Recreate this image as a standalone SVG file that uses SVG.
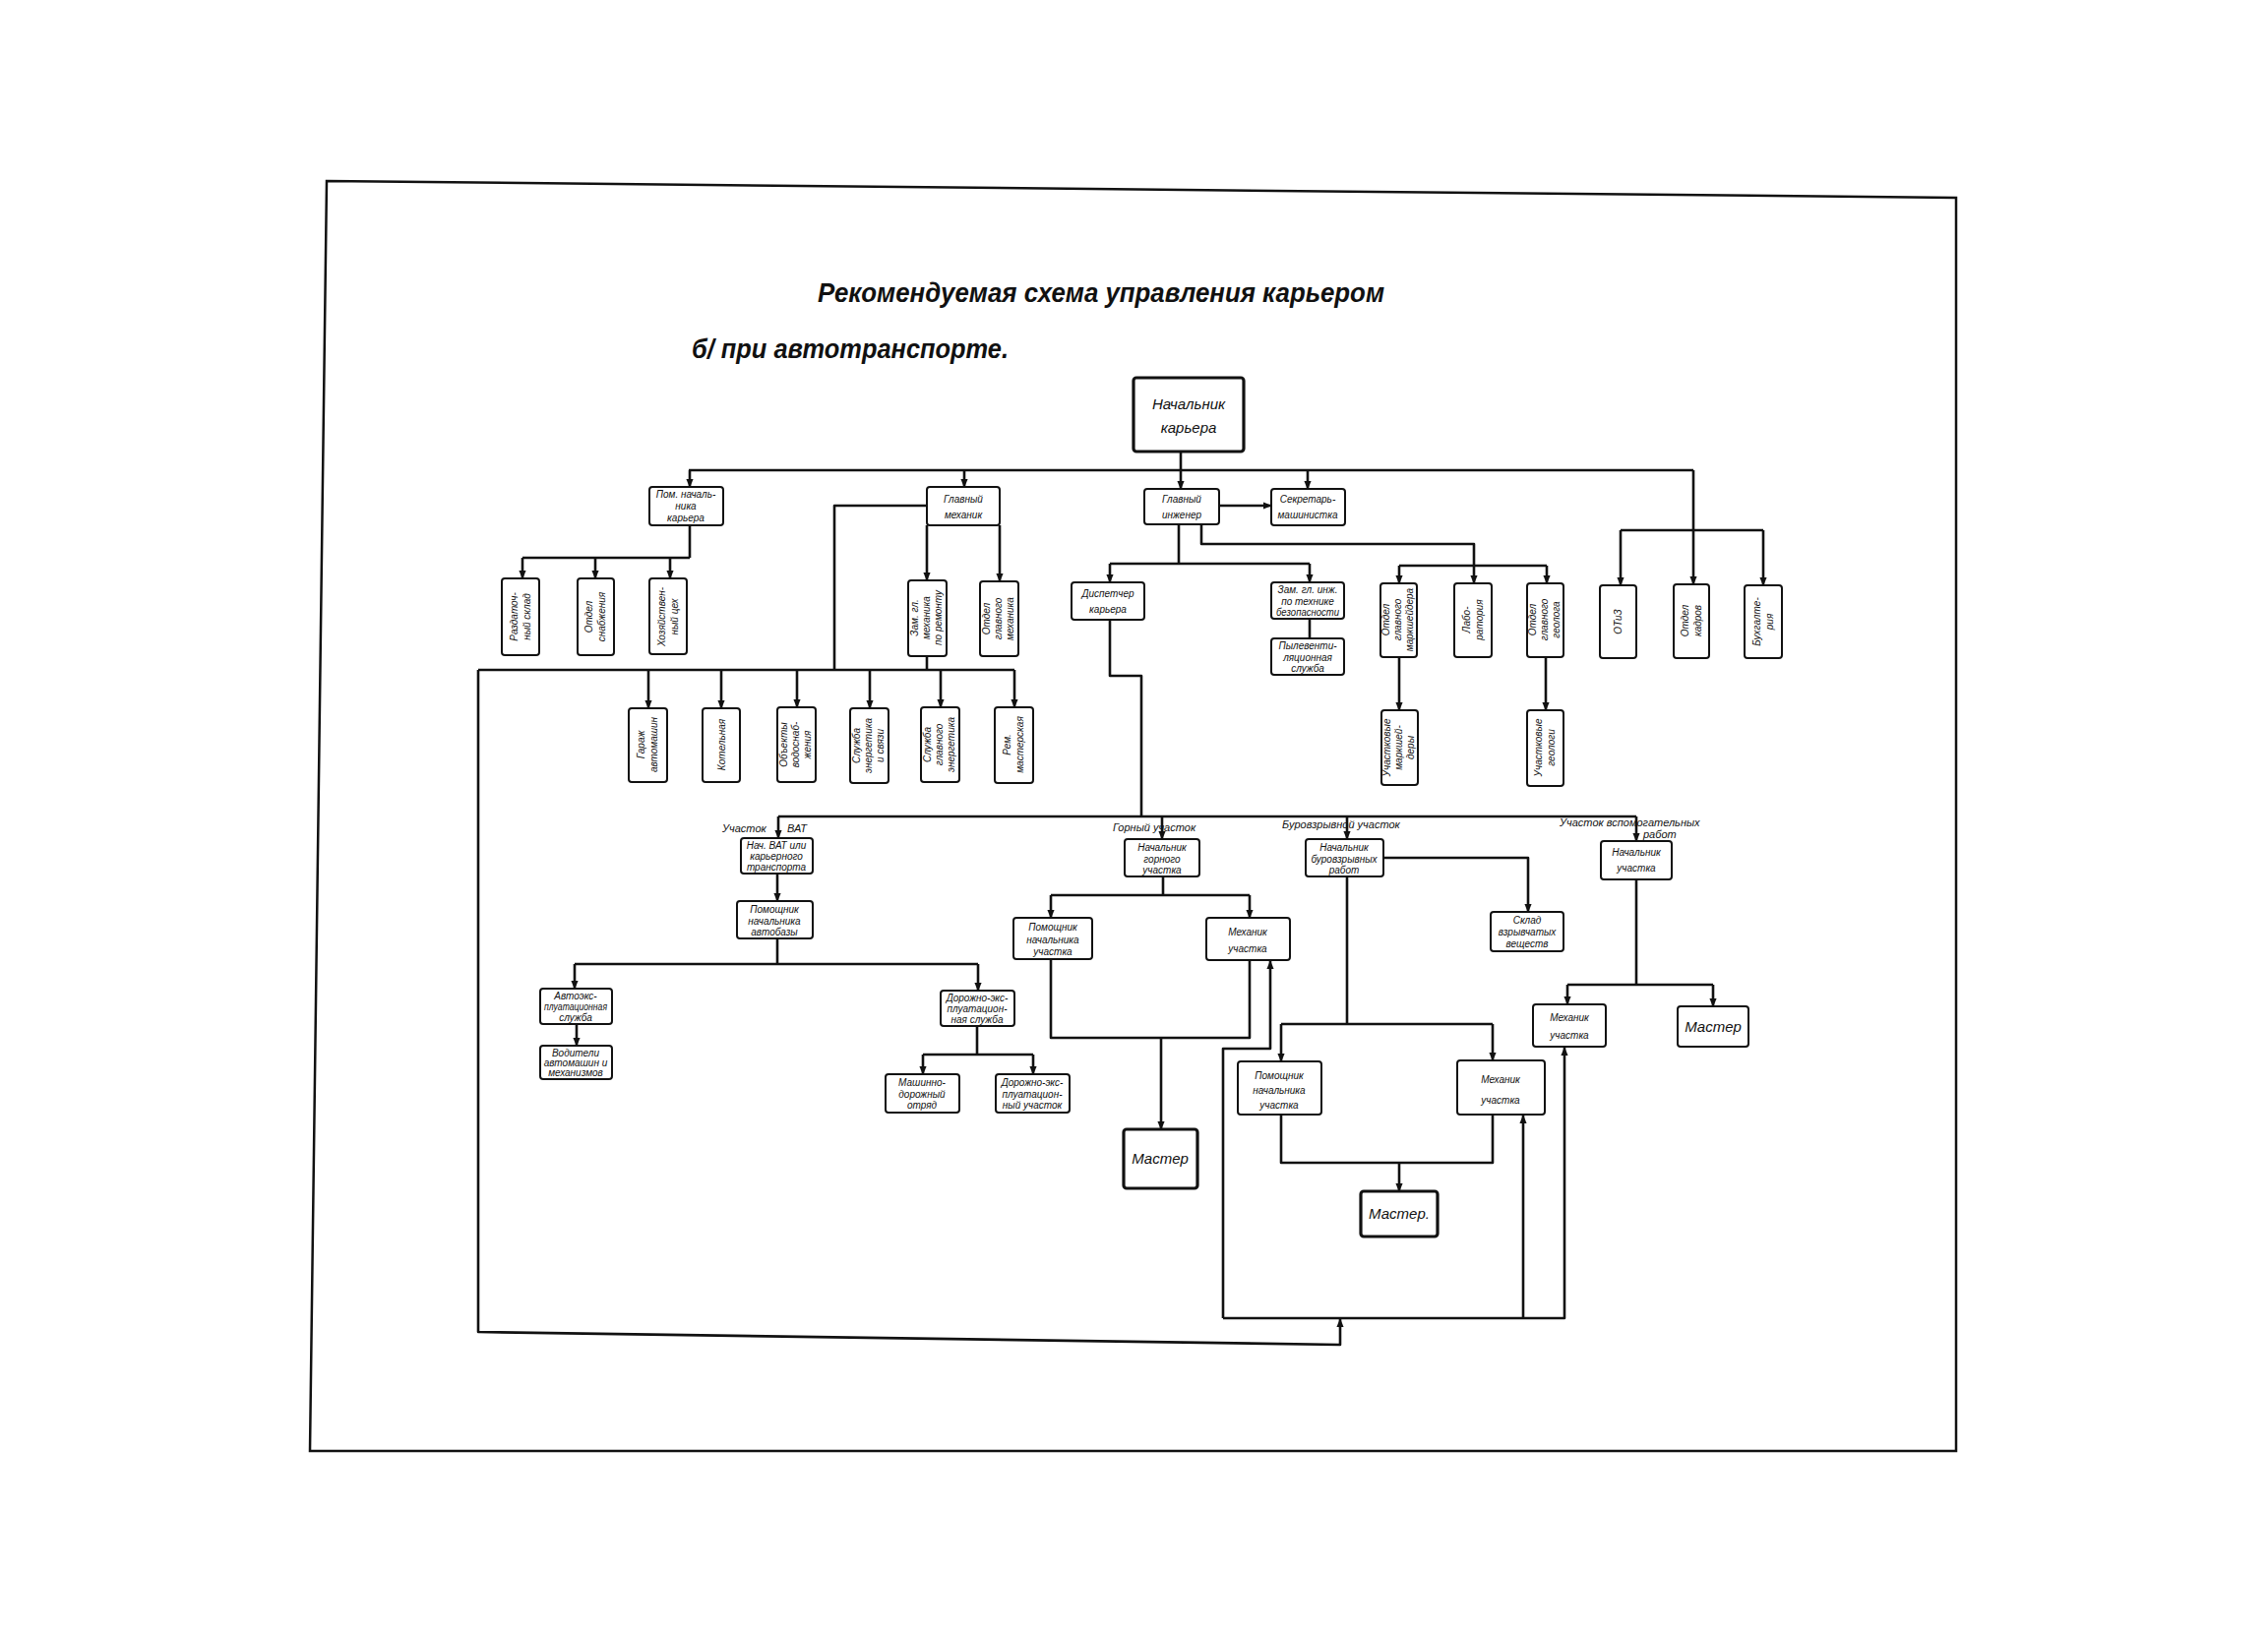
<svg xmlns="http://www.w3.org/2000/svg" width="2305" height="1657" viewBox="0 0 2305 1657">
<style>
.bx{fill:#fff;stroke:#111;stroke-width:2}
.bk{fill:#fff;stroke:#111;stroke-width:3.2}
.t{font-family:"Liberation Sans",Arial,sans-serif;font-size:10px;font-style:italic;text-anchor:middle;fill:#111}
.tb{font-family:"Liberation Sans",Arial,sans-serif;font-size:15px;font-style:italic;text-anchor:middle;fill:#111}
.lb{font-family:"Liberation Sans",Arial,sans-serif;font-size:11px;font-style:italic;fill:#111}
.ti{font-family:"Liberation Sans",Arial,sans-serif;font-size:28px;font-style:italic;font-weight:bold;fill:#111}
.ln{fill:none;stroke:#111;stroke-width:2.6;stroke-linejoin:round}
.ar{marker-end:url(#a)}
</style>
<defs>
<marker id="a" viewBox="0 0 10 10" refX="9" refY="5" markerWidth="9" markerHeight="9" markerUnits="userSpaceOnUse" orient="auto">
<path d="M0,1 L10,5 L0,9 z" fill="#111"/>
</marker>
</defs>
<rect width="2305" height="1657" fill="#fff"/>
<path d="M332,184 L1988,201 L1988,1475 L315,1475 Z" fill="none" stroke="#111" stroke-width="2.5"/>
<text class="ti" x="831" y="307" textLength="576" lengthAdjust="spacingAndGlyphs">Рекомендуемая схема управления карьером</text>
<text class="ti" x="703" y="364" textLength="322" lengthAdjust="spacingAndGlyphs">б/ при автотранспорте.</text>

<g id="connectors">
<path class="ln" d="M700,478 H1721"/>
<path class="ln ar" d="M1200,459 V497"/>
<path class="ln ar" d="M701,478 V495"/>
<path class="ln ar" d="M980,478 V495"/>
<path class="ln ar" d="M1329,478 V497"/>
<path class="ln" d="M1721,478 V539 M1647,539 H1792"/>
<path class="ln ar" d="M1647,539 V595"/>
<path class="ln ar" d="M1721,539 V594"/>
<path class="ln ar" d="M1792,539 V595"/>
<path class="ln ar" d="M1239,514 H1292"/>
<path class="ln" d="M701,534 V567 M531,567 H701"/>
<path class="ln ar" d="M531,567 V588"/>
<path class="ln ar" d="M605,567 V588"/>
<path class="ln ar" d="M681,567 V588"/>
<path class="ln" d="M942,514 H848 V681"/>
<path class="ln ar" d="M942,534 V590"/>
<path class="ln ar" d="M1016,534 V591"/>
<path class="ln" d="M942,667 V681"/>
<path class="ln" d="M486,681 H1031"/>
<path class="ln ar" d="M659,681 V720"/>
<path class="ln ar" d="M733,681 V720"/>
<path class="ln ar" d="M810,681 V719"/>
<path class="ln ar" d="M884,681 V720"/>
<path class="ln ar" d="M956,681 V719"/>
<path class="ln ar" d="M1031,681 V719"/>
<path class="ln ar" d="M486,681 V1354 L1362,1367 V1341"/>
<path class="ln" d="M1198,533 V573 M1128,573 H1331"/>
<path class="ln ar" d="M1128,573 V592"/>
<path class="ln ar" d="M1331,573 V592"/>
<path class="ln" d="M1331,629 V649"/>
<path class="ln" d="M1221,533 V553 H1498 V575 M1422,575 H1572"/>
<path class="ln ar" d="M1422,575 V593"/>
<path class="ln ar" d="M1498,575 V593"/>
<path class="ln ar" d="M1572,575 V593"/>
<path class="ln ar" d="M1422,668 V722"/>
<path class="ln ar" d="M1571,668 V722"/>
<path class="ln" d="M1128,630 V687 H1160 V830"/>
<path class="ln" d="M791,830 H1663"/>
<path class="ln ar" d="M791,830 V852"/>
<path class="ln ar" d="M790,888 V916"/>
<path class="ln" d="M790,954 V980 M584,980 H994"/>
<path class="ln ar" d="M584,980 V1005"/>
<path class="ln ar" d="M994,980 V1007"/>
<path class="ln ar" d="M586,1041 V1063"/>
<path class="ln" d="M993,1043 V1072 M938,1072 H1050"/>
<path class="ln ar" d="M938,1072 V1092"/>
<path class="ln ar" d="M1050,1072 V1092"/>
<path class="ln ar" d="M1181,830 V853"/>
<path class="ln" d="M1182,891 V910 M1068,910 H1270"/>
<path class="ln ar" d="M1068,910 V933"/>
<path class="ln ar" d="M1270,910 V933"/>
<path class="ln" d="M1068,975 V1055 H1270 V976"/>
<path class="ln ar" d="M1180,1055 V1148"/>
<path class="ln ar" d="M1243,1340 V1066 H1291 V977"/>
<path class="ln ar" d="M1243,1340 H1590 V1065"/>
<path class="ln ar" d="M1548,1340 V1134"/>
<path class="ln ar" d="M1369,830 V853"/>
<path class="ln ar" d="M1406,872 H1553 V927"/>
<path class="ln" d="M1369,891 V1041 M1302,1041 H1517"/>
<path class="ln ar" d="M1302,1041 V1079"/>
<path class="ln ar" d="M1517,1041 V1078"/>
<path class="ln" d="M1302,1133 V1182 H1517 V1133"/>
<path class="ln ar" d="M1422,1182 V1211"/>
<path class="ln ar" d="M1663,830 V855"/>
<path class="ln" d="M1663,894 V1001 M1593,1001 H1741"/>
<path class="ln ar" d="M1593,1001 V1021"/>
<path class="ln ar" d="M1741,1001 V1023"/>
</g>

<g id="n1"><rect class="bk" x="1152" y="384" width="112" height="75" rx="3"/><text class="tb" x="1208" y="416">Начальник</text><text class="tb" x="1208" y="440">карьера</text></g>
<g id="n2"><rect class="bx" x="660" y="495" width="75" height="39" rx="3"/><text class="t" x="697" y="506">Пом. началь-</text><text class="t" x="697" y="518">ника</text><text class="t" x="697" y="530">карьера</text></g>
<g id="n3"><rect class="bx" x="942" y="495" width="74" height="39" rx="3"/><text class="t" x="979" y="511">Главный</text><text class="t" x="979" y="527">механик</text></g>
<g id="n4"><rect class="bx" x="1163" y="497" width="76" height="36" rx="3"/><text class="t" x="1201" y="511">Главный</text><text class="t" x="1201" y="527">инженер</text></g>
<g id="n5"><rect class="bx" x="1292" y="497" width="75" height="37" rx="3"/><text class="t" x="1329" y="511">Секретарь-</text><text class="t" x="1329" y="527">машинистка</text></g>

<g id="n6"><rect class="bx" x="510" y="588" width="38" height="78" rx="3"/><text class="t" transform="translate(529,627) rotate(-90)"><tspan x="0" y="-3">Раздаточ-</tspan><tspan x="0" y="10">ный склад</tspan></text></g>
<g id="n7"><rect class="bx" x="587" y="588" width="37" height="78" rx="3"/><text class="t" transform="translate(605,627) rotate(-90)"><tspan x="0" y="-3">Отдел</tspan><tspan x="0" y="10">снабжения</tspan></text></g>
<g id="n8"><rect class="bx" x="660" y="588" width="38" height="77" rx="3"/><text class="t" transform="translate(679,627) rotate(-90)"><tspan x="0" y="-3">Хозяйствен-</tspan><tspan x="0" y="10">ный цех</tspan></text></g>
<g id="n9"><rect class="bx" x="923" y="590" width="39" height="77" rx="3"/><text class="t" transform="translate(942,628) rotate(-90)"><tspan x="0" y="-9">Зам. гл.</tspan><tspan x="0" y="3">механика</tspan><tspan x="0" y="15">по ремонту</tspan></text></g>
<g id="n10"><rect class="bx" x="996" y="591" width="39" height="76" rx="3"/><text class="t" transform="translate(1015,629) rotate(-90)"><tspan x="0" y="-9">Отдел</tspan><tspan x="0" y="3">главного</tspan><tspan x="0" y="15">механика</tspan></text></g>

<g id="n11"><rect class="bx" x="639" y="720" width="39" height="75" rx="3"/><text class="t" transform="translate(658,757) rotate(-90)"><tspan x="0" y="-3">Гараж</tspan><tspan x="0" y="10">автомашин</tspan></text></g>
<g id="n12"><rect class="bx" x="714" y="720" width="38" height="75" rx="3"/><text class="t" transform="translate(733,757) rotate(-90)"><tspan x="0" y="4">Котельная</tspan></text></g>
<g id="n13"><rect class="bx" x="790" y="719" width="39" height="76" rx="3"/><text class="t" transform="translate(809,757) rotate(-90)"><tspan x="0" y="-9">Объекты</tspan><tspan x="0" y="3">водоснаб-</tspan><tspan x="0" y="15">жения</tspan></text></g>
<g id="n14"><rect class="bx" x="864" y="720" width="39" height="76" rx="3"/><text class="t" transform="translate(883,758) rotate(-90)"><tspan x="0" y="-9">Служба</tspan><tspan x="0" y="3">энергетика</tspan><tspan x="0" y="15">и связи</tspan></text></g>
<g id="n15"><rect class="bx" x="936" y="719" width="39" height="76" rx="3"/><text class="t" transform="translate(955,757) rotate(-90)"><tspan x="0" y="-9">Служба</tspan><tspan x="0" y="3">главного</tspan><tspan x="0" y="15">энергетика</tspan></text></g>
<g id="n16"><rect class="bx" x="1011" y="719" width="39" height="77" rx="3"/><text class="t" transform="translate(1030,757) rotate(-90)"><tspan x="0" y="-3">Рем.</tspan><tspan x="0" y="10">мастерская</tspan></text></g>

<g id="n17"><rect class="bx" x="1089" y="592" width="74" height="38" rx="3"/><text class="t" x="1126" y="607">Диспетчер</text><text class="t" x="1126" y="623">карьера</text></g>
<g id="n18"><rect class="bx" x="1292" y="592" width="74" height="37" rx="3"/><text class="t" x="1329" y="603">Зам. гл. инж.</text><text class="t" x="1329" y="615">по технике</text><text class="t" x="1329" y="626" textLength="64" lengthAdjust="spacingAndGlyphs">безопасности</text></g>
<g id="n19"><rect class="bx" x="1292" y="649" width="74" height="37" rx="3"/><text class="t" x="1329" y="660">Пылевенти-</text><text class="t" x="1329" y="672">ляционная</text><text class="t" x="1329" y="683">служба</text></g>
<g id="n20"><rect class="bx" x="1403" y="593" width="37" height="75" rx="3"/><text class="t" transform="translate(1421,630) rotate(-90)"><tspan x="0" y="-9">Отдел</tspan><tspan x="0" y="3">главного</tspan><tspan x="0" y="15">маркшейдера</tspan></text></g>
<g id="n21"><rect class="bx" x="1478" y="593" width="38" height="75" rx="3"/><text class="t" transform="translate(1497,630) rotate(-90)"><tspan x="0" y="-3">Лабо-</tspan><tspan x="0" y="10">ратория</tspan></text></g>
<g id="n22"><rect class="bx" x="1552" y="593" width="37" height="75" rx="3"/><text class="t" transform="translate(1570,630) rotate(-90)"><tspan x="0" y="-9">Отдел</tspan><tspan x="0" y="3">главного</tspan><tspan x="0" y="15">геолога</tspan></text></g>
<g id="n23"><rect class="bx" x="1404" y="722" width="37" height="76" rx="3"/><text class="t" transform="translate(1422,760) rotate(-90)"><tspan x="0" y="-9">Участковые</tspan><tspan x="0" y="3">маркшей-</tspan><tspan x="0" y="15">деры</tspan></text></g>
<g id="n24"><rect class="bx" x="1552" y="722" width="37" height="77" rx="3"/><text class="t" transform="translate(1570,760) rotate(-90)"><tspan x="0" y="-3">Участковые</tspan><tspan x="0" y="10">геологи</tspan></text></g>

<g id="n25"><rect class="bx" x="1626" y="595" width="37" height="74" rx="3"/><text class="t" transform="translate(1644,632) rotate(-90)"><tspan x="0" y="4">ОТиЗ</tspan></text></g>
<g id="n26"><rect class="bx" x="1701" y="594" width="36" height="75" rx="3"/><text class="t" transform="translate(1719,631) rotate(-90)"><tspan x="0" y="-3">Отдел</tspan><tspan x="0" y="10">кадров</tspan></text></g>
<g id="n27"><rect class="bx" x="1773" y="595" width="38" height="74" rx="3"/><text class="t" transform="translate(1792,632) rotate(-90)"><tspan x="0" y="-3">Бухгалте-</tspan><tspan x="0" y="10">рия</tspan></text></g>

<g id="lbl-vat"><text class="lb" x="734" y="846">Участок</text><text class="lb" x="800" y="846">ВАТ</text></g>
<g id="n28"><rect class="bx" x="753" y="852" width="73" height="36" rx="3"/><text class="t" x="789" y="863">Нач. ВАТ или</text><text class="t" x="789" y="874">карьерного</text><text class="t" x="789" y="885">транспорта</text></g>
<g id="n29"><rect class="bx" x="749" y="916" width="77" height="38" rx="3"/><text class="t" x="787" y="928">Помощник</text><text class="t" x="787" y="940">начальника</text><text class="t" x="787" y="951">автобазы</text></g>
<g id="n30"><rect class="bx" x="549" y="1005" width="73" height="36" rx="3"/><text class="t" x="585" y="1016">Автоэкс-</text><text class="t" x="585" y="1027" textLength="64" lengthAdjust="spacingAndGlyphs">плуатационная</text><text class="t" x="585" y="1038">служба</text></g>
<g id="n31"><rect class="bx" x="549" y="1063" width="73" height="34" rx="3"/><text class="t" x="585" y="1074">Водители</text><text class="t" x="585" y="1084">автомашин и</text><text class="t" x="585" y="1094">механизмов</text></g>
<g id="n32"><rect class="bx" x="956" y="1007" width="75" height="36" rx="3"/><text class="t" x="993" y="1018">Дорожно-экс-</text><text class="t" x="993" y="1029">плуатацион-</text><text class="t" x="993" y="1040">ная служба</text></g>
<g id="n33"><rect class="bx" x="900" y="1092" width="75" height="39" rx="3"/><text class="t" x="937" y="1104">Машинно-</text><text class="t" x="937" y="1116">дорожный</text><text class="t" x="937" y="1127">отряд</text></g>
<g id="n34"><rect class="bx" x="1012" y="1092" width="75" height="39" rx="3"/><text class="t" x="1049" y="1104">Дорожно-экс-</text><text class="t" x="1049" y="1116">плуатацион-</text><text class="t" x="1049" y="1127">ный участок</text></g>

<g id="lbl-gor"><text class="lb" x="1131" y="845">Горный участок</text></g>
<g id="n35"><rect class="bx" x="1143" y="853" width="76" height="38" rx="3"/><text class="t" x="1181" y="865">Начальник</text><text class="t" x="1181" y="877">горного</text><text class="t" x="1181" y="888">участка</text></g>
<g id="n36"><rect class="bx" x="1030" y="933" width="80" height="42" rx="3"/><text class="t" x="1070" y="946">Помощник</text><text class="t" x="1070" y="959">начальника</text><text class="t" x="1070" y="971">участка</text></g>
<g id="n37"><rect class="bx" x="1226" y="933" width="85" height="43" rx="3"/><text class="t" x="1268" y="951">Механик</text><text class="t" x="1268" y="968">участка</text></g>
<g id="n38"><rect class="bk" x="1142" y="1148" width="75" height="60" rx="3"/><text class="tb" x="1179" y="1183">Мастер</text></g>

<g id="lbl-bur"><text class="lb" x="1303" y="842">Буровзрывной участок</text></g>
<g id="n39"><rect class="bx" x="1327" y="853" width="79" height="38" rx="3"/><text class="t" x="1366" y="865">Начальник</text><text class="t" x="1366" y="877">буровзрывных</text><text class="t" x="1366" y="888">работ</text></g>
<g id="n40"><rect class="bx" x="1515" y="927" width="74" height="40" rx="3"/><text class="t" x="1552" y="939">Склад</text><text class="t" x="1552" y="951">взрывчатых</text><text class="t" x="1552" y="963">веществ</text></g>
<g id="n41"><rect class="bx" x="1258" y="1079" width="85" height="54" rx="3"/><text class="t" x="1300" y="1097">Помощник</text><text class="t" x="1300" y="1112">начальника</text><text class="t" x="1300" y="1127">участка</text></g>
<g id="n42"><rect class="bx" x="1481" y="1078" width="89" height="55" rx="3"/><text class="t" x="1525" y="1101">Механик</text><text class="t" x="1525" y="1122">участка</text></g>
<g id="n43"><rect class="bk" x="1383" y="1211" width="78" height="46" rx="3"/><text class="tb" x="1422" y="1239">Мастер.</text></g>

<g id="lbl-vsp"><text class="lb" x="1585" y="840">Участок вспомогательных</text><text class="lb" x="1670" y="852">работ</text></g>
<g id="n44"><rect class="bx" x="1627" y="855" width="72" height="39" rx="3"/><text class="t" x="1663" y="870">Начальник</text><text class="t" x="1663" y="886">участка</text></g>
<g id="n45"><rect class="bx" x="1558" y="1021" width="74" height="43" rx="3"/><text class="t" x="1595" y="1038">Механик</text><text class="t" x="1595" y="1056">участка</text></g>
<g id="n46"><rect class="bx" x="1705" y="1023" width="72" height="41" rx="3"/><text class="tb" x="1741" y="1049">Мастер</text></g>
</svg>
